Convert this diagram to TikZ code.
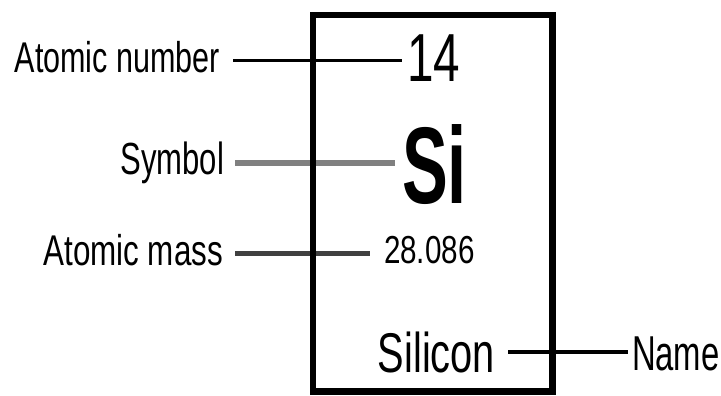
\documentclass[tikz,border=0pt]{standalone}
\usepackage{fontspec}
\setmainfont{Liberation Sans}
\newcommand{\fsz}[1]{\fontsize{#1}{#1}\selectfont}
\begin{document}
\begin{tikzpicture}[x=1pt,y=-1pt,
  txt/.style={inner sep=0pt, outer sep=0pt, text=black},
  lead/.style={line width=3.5pt, black, line cap=butt},
  cellbox/.style={draw=black, line width=6.5pt, inner sep=0pt, minimum width=239.5pt, minimum height=376pt}]
\useasboundingbox (0,0) rectangle (721,396);
% labels
\node[txt, anchor=base east] (numlbl) at (220,73) {\fsz{43}\scalebox{0.71}[1]{Atomic number}};
\node[txt, anchor=base east] (symlbl) at (224,175) {\fsz{45}\scalebox{0.69}[1]{Symbol}};
\node[txt, anchor=base east] (masslbl) at (223,265) {\fsz{43}\scalebox{0.73}[1]{Atomic mass}};
\node[txt, anchor=base west] (namelbl) at (632,370) {\fsz{49}\scalebox{0.67}[1]{Name}};
% cell content
\node[txt, anchor=base west] (num) at (407,82) {\fsz{68}\scalebox{0.70}[1]{14}};
\node[txt, anchor=base west] (sym) at (402,203) {\fsz{109}\bfseries\scalebox{0.63}[1]{Si}};
\node[txt, anchor=base west] (mass) at (384,263) {\fsz{39}\scalebox{0.76}[1]{28.086}};
\node[txt, anchor=base east] (sil) at (495,372) {\fsz{56}\scalebox{0.71}[1]{Silicon}};
% connectors
\draw[lead] ([xshift=13pt,yshift=-3pt]numlbl.east) -- ([xshift=-5pt,yshift=-3pt]numlbl.east -| num.west);
\draw[lead, line width=6pt, black!50] ([xshift=11pt]symlbl.east) -- ([xshift=-7pt]symlbl.east -| sym.west);
\draw[lead, line width=5pt, black!75] ([xshift=12pt,yshift=-3.5pt]masslbl.east) -- ([xshift=-14pt,yshift=-3.5pt]masslbl.east -| mass.west);
\draw[lead, line width=4pt] ([xshift=13pt]sil.east) -- ([xshift=-4pt]sil.east -| namelbl.west);
% cell border
\node[cellbox, anchor=north west] (cell) at (309.5,12) {};
\end{tikzpicture}
\end{document}
